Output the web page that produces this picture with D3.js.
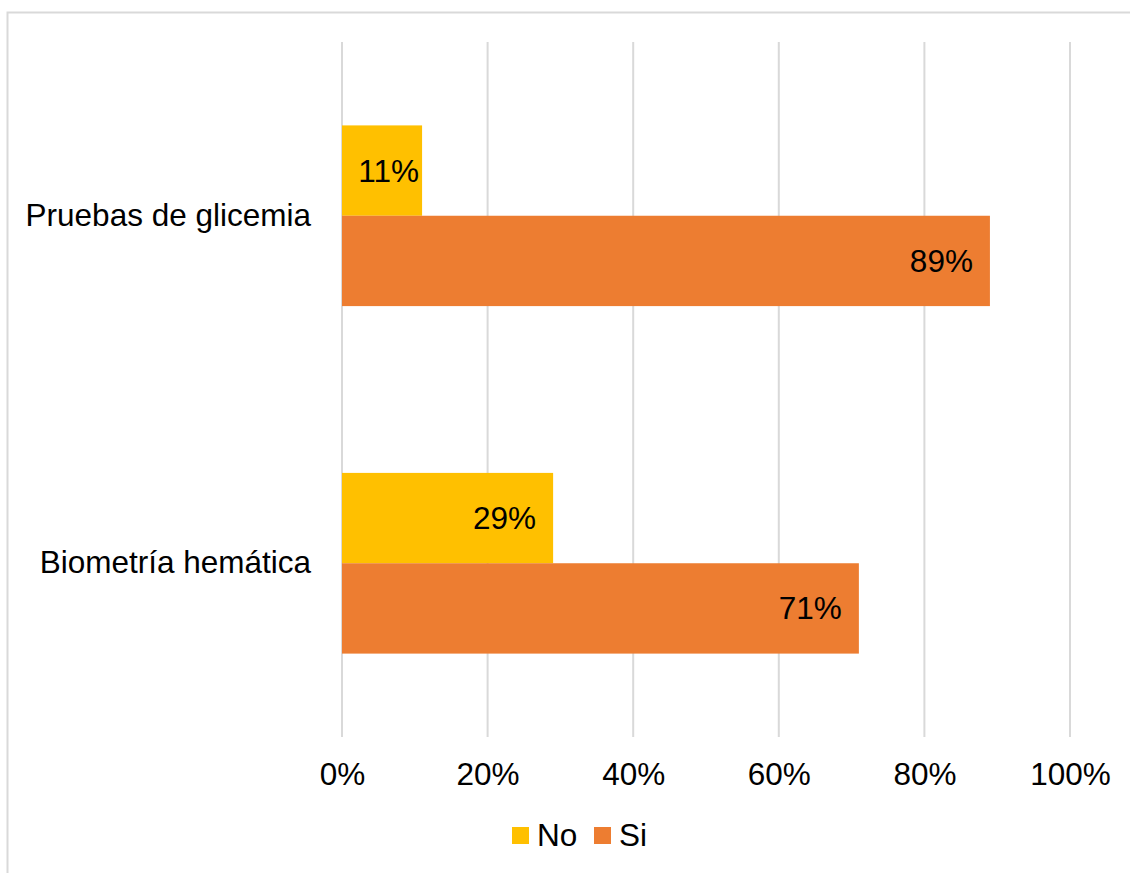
<!DOCTYPE html>
<html><head><meta charset="utf-8">
<script src="https://cdn.jsdelivr.net/npm/d3@7"></script>
<style>body{margin:0;background:#fff}svg{display:block;font-family:"Liberation Sans",Arial,sans-serif}</style>
</head><body><svg id="c" width="1130" height="873"></svg>
<script>
const categories = ["Pruebas de glicemia", "Biometría hemática"];
const seriesNames = ["No", "Si"];
const noValues = [0.11, 0.29];
const siValues = [0.89, 0.71];
const tickValues = [0, 0.2, 0.4, 0.6, 0.8, 1.0];
const colors = ["#FFC000", "#ED7D31"];

const FS = 31.5;
const svg = d3.select("#c");
svg.append("rect").attr("x", 7.5).attr("y", 12.5).attr("width", 1140).attr("height", 880)
  .attr("fill", "#fff").attr("stroke", "#D9D9D9").attr("stroke-width", 2);

const L = 342, R = 1070, T = 42, B = 737;
const x = d3.scaleLinear().domain([0, 1]).range([L, R]);
const y = d3.scaleBand().domain(categories).range([T, B]).paddingInner(0.48).paddingOuter(0.24);
const ys = d3.scaleBand().domain(seriesNames).range([0, y.bandwidth()]);

// gridlines
svg.append("g").selectAll("line").data(tickValues).join("line")
  .attr("x1", d => x(d)).attr("x2", d => x(d)).attr("y1", T).attr("y2", B)
  .attr("stroke", "#D9D9D9").attr("stroke-width", 2);

// axis labels
const xAxis = d3.axisBottom(x).tickValues(tickValues).tickFormat(d3.format(".0%")).tickSize(0).tickPadding(0);
const gx = svg.append("g").attr("transform", `translate(0,${B + 26})`).call(xAxis);
gx.select(".domain").remove();
gx.attr("font-size", FS).attr("font-family", "Liberation Sans, Arial, sans-serif");
gx.selectAll("text").attr("fill", "#000").attr("dy", "0.71em");

const yAxis = d3.axisLeft(y).tickSize(0).tickPadding(30);
const gy = svg.append("g").attr("transform", `translate(${L - 1},0)`).call(yAxis);
gy.select(".domain").remove();
gy.attr("font-size", FS).attr("font-family", "Liberation Sans, Arial, sans-serif");
gy.selectAll("text").attr("fill", "#000");

const data = [];
categories.forEach((c, i) => {
  data.push({cat: c, s: "No", v: noValues[i]});
  data.push({cat: c, s: "Si", v: siValues[i]});
});
const color = d3.scaleOrdinal().domain(seriesNames).range(colors);

const bars = svg.append("g").selectAll("g").data(data).join("g");
bars.append("rect")
  .attr("x", x(0)).attr("y", d => y(d.cat) + ys(d.s))
  .attr("width", d => x(d.v) - x(0)).attr("height", ys.bandwidth())
  .attr("fill", d => color(d.s));
bars.append("text")
  .attr("y", d => y(d.cat) + ys(d.s) + ys.bandwidth() / 2)
  .attr("dy", "0.35em").attr("text-anchor", "end").attr("font-size", FS).attr("fill", "#000")
  .text(d => d3.format(".0%")(d.v))
  .attr("x", function(d) {
    const w = this.getComputedTextLength();
    const bw = x(d.v) - x(0);
    const pad = (bw < w + 34) ? 3 : 17;
    return x(d.v) - pad;
  });

// legend
const leg = svg.append("g");
const legX = [512, 594];
seriesNames.forEach((s, i) => {
  leg.append("rect").attr("x", legX[i]).attr("y", 827).attr("width", 17).attr("height", 17).attr("fill", colors[i]);
  leg.append("text").attr("x", legX[i] + 25).attr("y", 835).attr("dy", "0.35em").attr("font-size", FS).attr("fill", "#000").text(s);
});
</script></body></html>
